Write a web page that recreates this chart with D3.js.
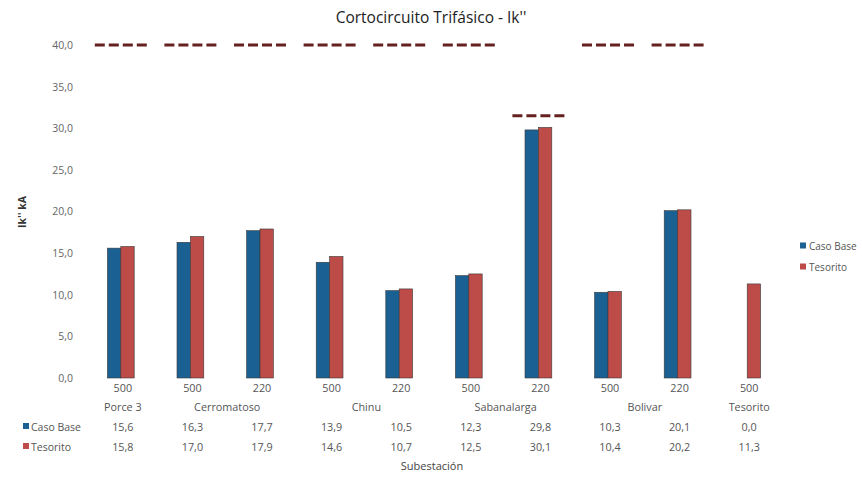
<!DOCTYPE html>
<html>
<head>
<meta charset="utf-8">
<script src="https://cdn.jsdelivr.net/npm/d3@7"></script>
<style>
  html, body { margin: 0; padding: 0; background: #fff; }
  svg { display: block; font-family: "Open Sans", "Noto Sans", sans-serif; }
</style>
</head>
<body>
<svg id="chart" width="862" height="477"></svg>
<script>
// Substations / voltage levels (kV)
const voltages = ["500", "500", "220", "500", "220", "500", "220", "500", "220", "500"];
const stations = [
  { name: "Porce 3", from: 0, to: 0 },
  { name: "Cerromatoso", from: 1, to: 2 },
  { name: "Chinu", from: 3, to: 4 },
  { name: "Sabanalarga", from: 5, to: 6 },
  { name: "Bolivar", from: 7, to: 8 },
  { name: "Tesorito", from: 9, to: 9 }
];
// Three-phase short-circuit current Ik'' (kA)
const casoBase = [15.6, 16.3, 17.7, 13.9, 10.5, 12.3, 29.8, 10.3, 20.1, 0.0];
const tesorito = [15.8, 17.0, 17.9, 14.6, 10.7, 12.5, 30.1, 10.4, 20.2, 11.3];
// Breaker interrupting capacity (kA); null where not shown
const capacity = [40, 40, 40, 40, 40, 40, 31.5, 40, 40, null];
const yTicks = [0, 5, 10, 15, 20, 25, 30, 35, 40];

const seriesNames = ["Caso Base", "Tesorito"];
const colors = ["#1b6092", "#bd4b48"];
const fmt = v => d3.format(".1f")(v).replace(".", ",");

const svg = d3.select("#chart");

const x = d3.scaleBand().domain(d3.range(voltages.length)).range([86, 782]);
const y = d3.scaleLinear().domain([0, 40]).range([378, 45]);
const barW = 13.4;

// Title
svg.append("text")
  .attr("x", 431).attr("y", 23)
  .attr("text-anchor", "middle")
  .attr("font-size", 15.5).attr("fill", "#222")
  .text("Cortocircuito Trifásico - Ik''");

// Y axis (labels only)
const yAxis = d3.axisLeft(y).tickValues(yTicks).tickFormat(fmt).tickSize(0).tickPadding(0);
const gy = svg.append("g").attr("transform", "translate(73,0)").call(yAxis);
gy.select(".domain").remove();
gy.selectAll("text").attr("font-size", 10.5).attr("fill", "#666")
  .attr("font-family", "'Open Sans', sans-serif");

// Y axis title
svg.append("text")
  .attr("transform", "translate(26,212) rotate(-90)")
  .attr("text-anchor", "middle")
  .attr("font-size", 10.5).attr("font-weight", "bold").attr("fill", "#333")
  .text("Ik'' kA");

// Bars
const series = [casoBase, tesorito];
series.forEach((vals, s) => {
  svg.append("g").selectAll("rect")
    .data(vals.map((v, i) => ({ v, i })))
    .join("rect")
    .attr("x", d => x(d.i) + x.bandwidth() / 2 - barW + s * barW)
    .attr("y", d => y(d.v))
    .attr("width", barW)
    .attr("height", d => y(0) - y(d.v))
    .attr("fill", colors[s])
    .attr("stroke", d => d.v > 0 ? "#3a3a3a" : "none")
    .attr("stroke-width", 0.6);
});

// Capacity markers
svg.append("g").selectAll("line")
  .data(capacity.map((c, i) => ({ c, i })).filter(d => d.c !== null))
  .join("line")
  .attr("x1", d => x(d.i) + x.bandwidth() / 2 - 26)
  .attr("x2", d => x(d.i) + x.bandwidth() / 2 + 26)
  .attr("y1", d => y(d.c)).attr("y2", d => y(d.c))
  .attr("stroke", "#652020").attr("stroke-width", 2.8)
  .attr("stroke-dasharray", "10,4");

// Category table below the plot
const cx = i => x(i) + x.bandwidth() / 2 + 2;
const tbl = svg.append("g").attr("font-size", 10.8).attr("fill", "#555").attr("text-anchor", "middle");

tbl.selectAll(".volt").data(voltages).join("text")
  .attr("class", "volt")
  .attr("x", (d, i) => cx(i)).attr("y", 392)
  .text(d => d);

tbl.selectAll(".station").data(stations).join("text")
  .attr("class", "station")
  .attr("x", d => (cx(d.from) + cx(d.to)) / 2).attr("y", 411)
  .text(d => d.name);

[430.5, 450.5].forEach((rowY, s) => {
  tbl.selectAll(".row" + s).data(series[s]).join("text")
    .attr("class", "row" + s)
    .attr("x", (d, i) => cx(i)).attr("y", rowY)
    .text(d => fmt(d));
  svg.append("rect")
    .attr("x", 23).attr("y", rowY - 7.5).attr("width", 6).attr("height", 6)
    .attr("fill", colors[s]);
  svg.append("text")
    .attr("x", 31).attr("y", rowY)
    .attr("font-size", 10.5).attr("fill", "#555")
    .text(seriesNames[s]);
});

// X axis title
svg.append("text")
  .attr("x", 432).attr("y", 470)
  .attr("text-anchor", "middle")
  .attr("font-size", 11).attr("fill", "#444")
  .text("Subestación");

// Legend
const legend = svg.append("g").attr("transform", "translate(800,0)");
seriesNames.forEach((name, s) => {
  const ly = 246 + s * 21;
  legend.append("rect")
    .attr("x", 0).attr("y", ly - 3.5).attr("width", 6).attr("height", 6)
    .attr("fill", colors[s]);
  legend.append("text")
    .attr("x", 9).attr("y", ly + 3.5)
    .attr("font-size", 10).attr("fill", "#555")
    .text(name);
});
</script>
</body>
</html>
